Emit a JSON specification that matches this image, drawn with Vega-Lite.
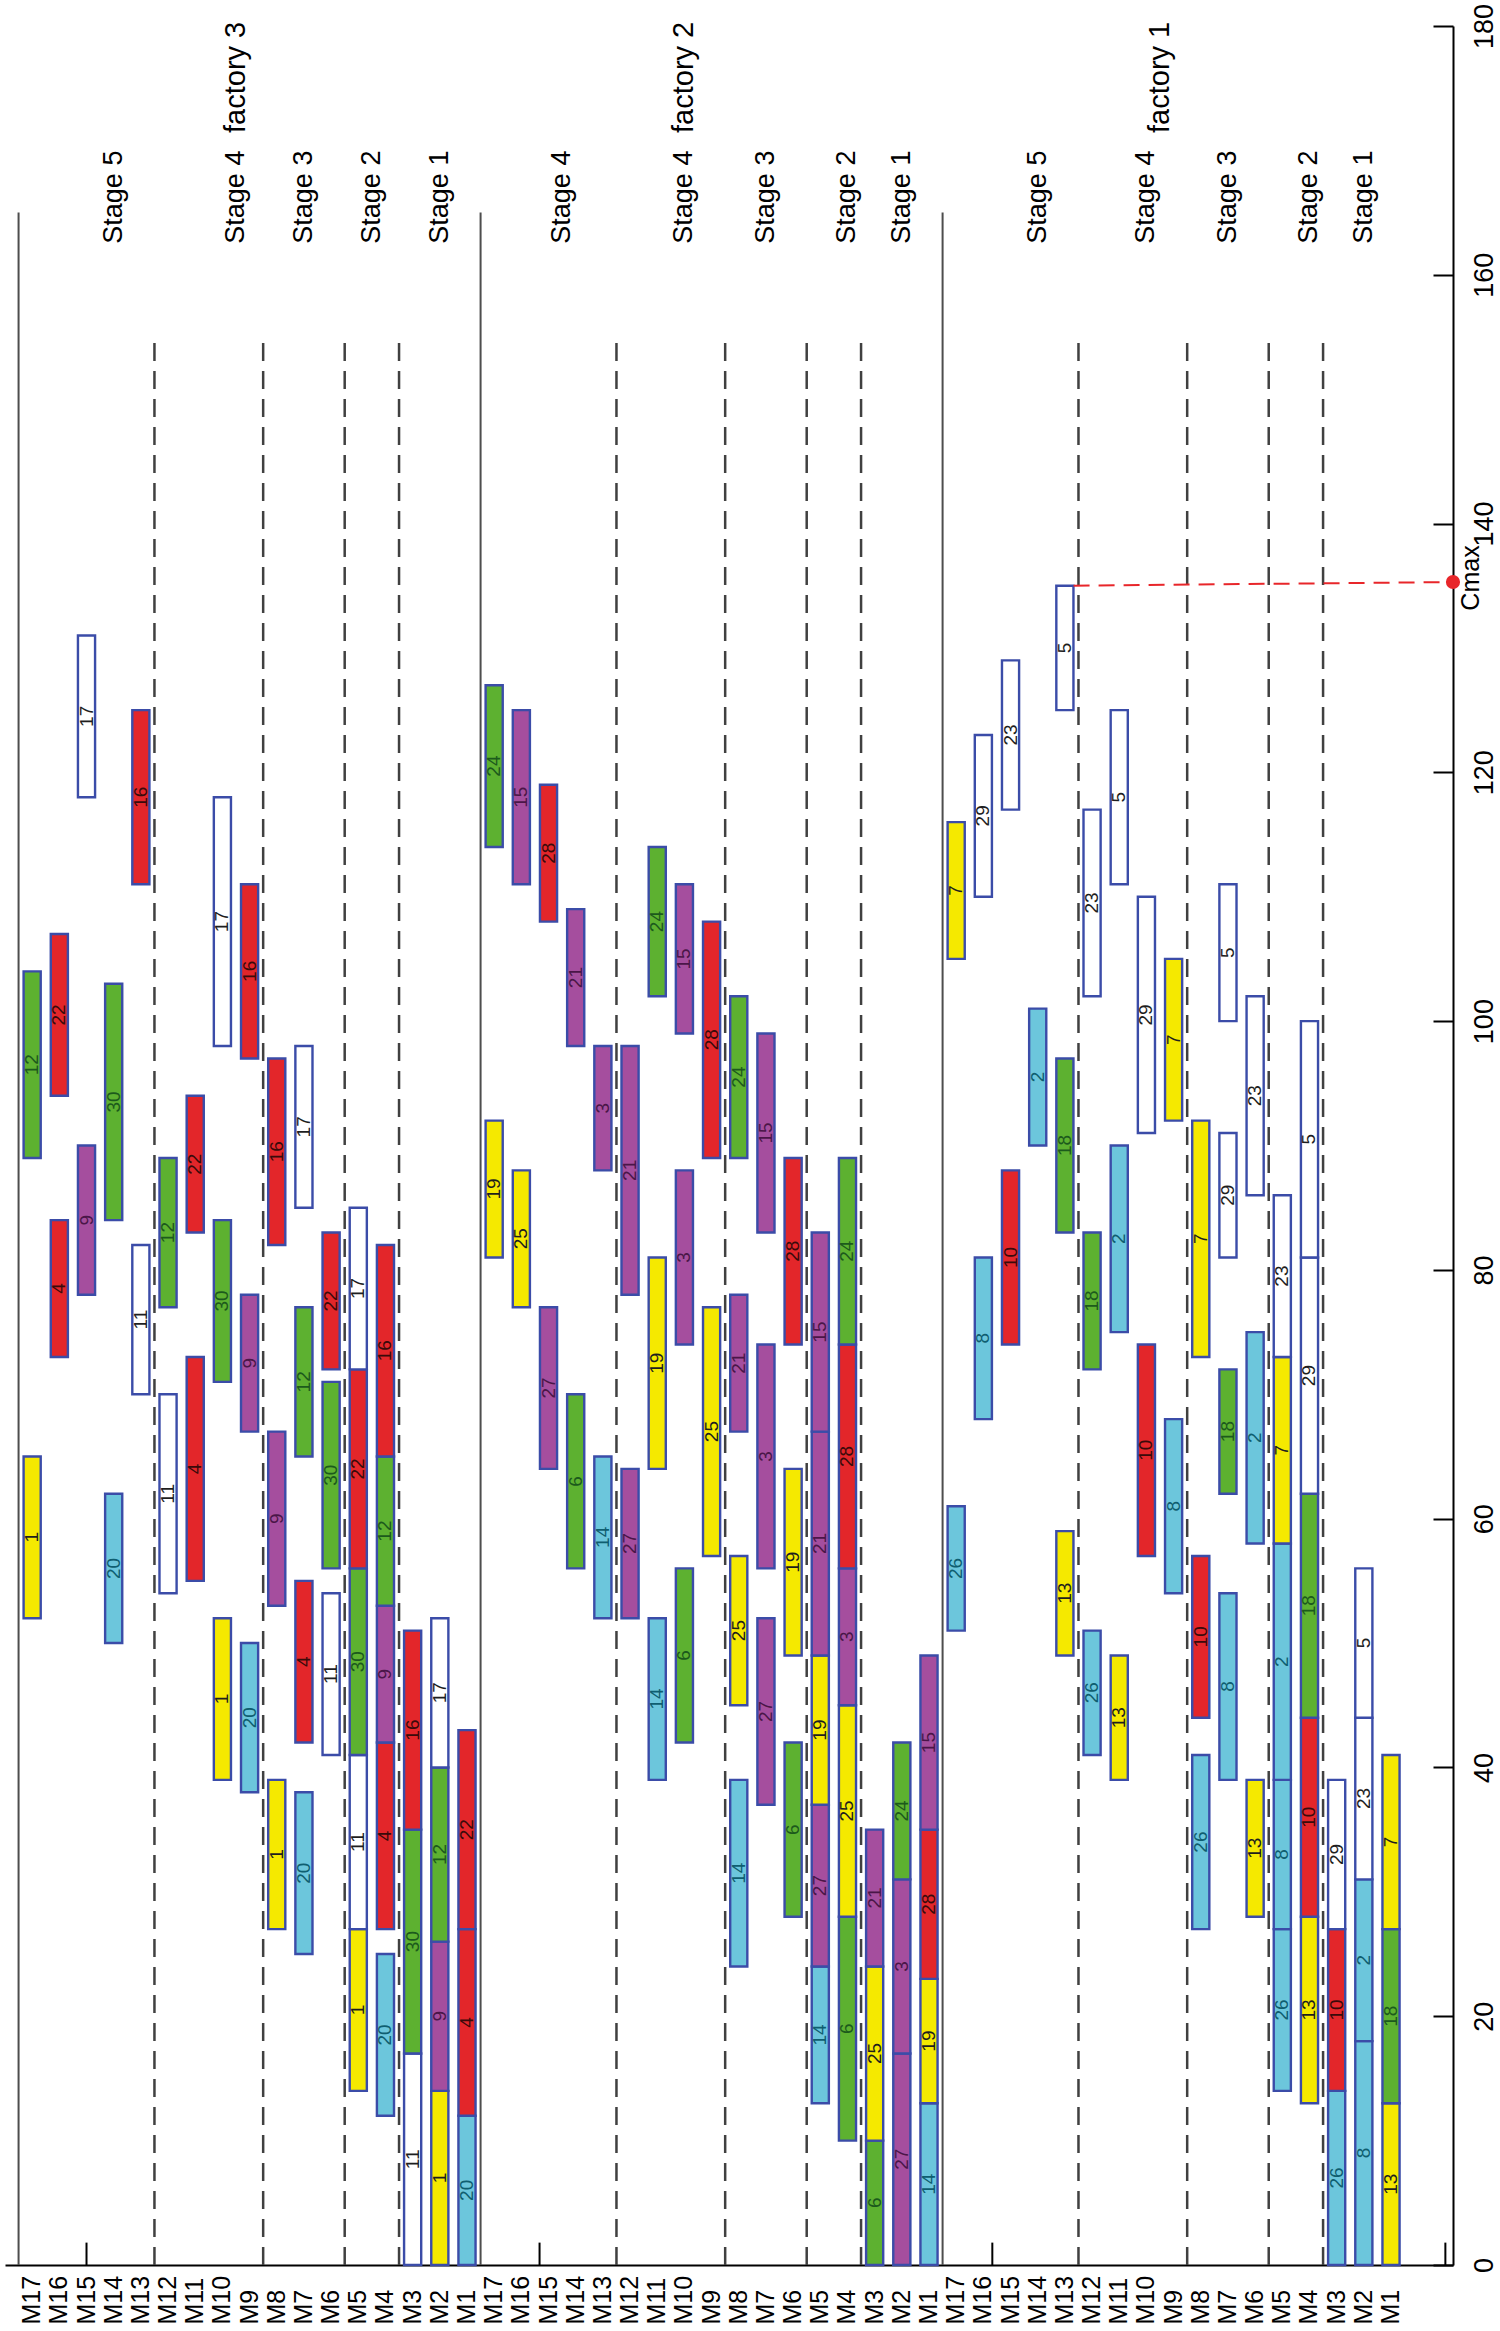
{
  "$schema": "https://vega.github.io/schema/vega-lite/v6.json",
  "width": 1448,
  "height": 2239,
  "autosize": {"type": "none"},
  "padding": {"left": 5, "top": 26, "right": 47, "bottom": 66},
  "background": "white",
  "config": {"view": {"stroke": null}, "font": "Liberation Sans"},
  "datasets": {
    "ops": [
      {"mc":"F1 M1","job":13,"start":0,"end":13},{"mc":"F1 M1","job":18,"start":13,"end":27},{"mc":"F1 M1","job":7,"start":27,"end":41},
      {"mc":"F1 M2","job":8,"start":0,"end":18},{"mc":"F1 M2","job":2,"start":18,"end":31},{"mc":"F1 M2","job":23,"start":31,"end":44},{"mc":"F1 M2","job":5,"start":44,"end":56},
      {"mc":"F1 M3","job":26,"start":0,"end":14},{"mc":"F1 M3","job":10,"start":14,"end":27},{"mc":"F1 M3","job":29,"start":27,"end":39},
      {"mc":"F1 M4","job":13,"start":13,"end":28},{"mc":"F1 M4","job":10,"start":28,"end":44},{"mc":"F1 M4","job":18,"start":44,"end":62},{"mc":"F1 M4","job":29,"start":62,"end":81},{"mc":"F1 M4","job":5,"start":81,"end":100},
      {"mc":"F1 M5","job":26,"start":14,"end":27},{"mc":"F1 M5","job":8,"start":27,"end":39},{"mc":"F1 M5","job":2,"start":39,"end":58},{"mc":"F1 M5","job":7,"start":58,"end":73},{"mc":"F1 M5","job":23,"start":73,"end":86},
      {"mc":"F1 M6","job":13,"start":28,"end":39},{"mc":"F1 M6","job":2,"start":58,"end":75},{"mc":"F1 M6","job":23,"start":86,"end":102},
      {"mc":"F1 M7","job":8,"start":39,"end":54},{"mc":"F1 M7","job":18,"start":62,"end":72},{"mc":"F1 M7","job":29,"start":81,"end":91},{"mc":"F1 M7","job":5,"start":100,"end":111},
      {"mc":"F1 M8","job":26,"start":27,"end":41},{"mc":"F1 M8","job":10,"start":44,"end":57},{"mc":"F1 M8","job":7,"start":73,"end":92},
      {"mc":"F1 M9","job":8,"start":54,"end":68},{"mc":"F1 M9","job":7,"start":92,"end":105},
      {"mc":"F1 M10","job":10,"start":57,"end":74},{"mc":"F1 M10","job":29,"start":91,"end":110},
      {"mc":"F1 M11","job":13,"start":39,"end":49},{"mc":"F1 M11","job":2,"start":75,"end":90},{"mc":"F1 M11","job":5,"start":111,"end":125},
      {"mc":"F1 M12","job":26,"start":41,"end":51},{"mc":"F1 M12","job":18,"start":72,"end":83},{"mc":"F1 M12","job":23,"start":102,"end":117},
      {"mc":"F1 M13","job":13,"start":49,"end":59},{"mc":"F1 M13","job":18,"start":83,"end":97},{"mc":"F1 M13","job":5,"start":125,"end":135},
      {"mc":"F1 M14","job":2,"start":90,"end":101},
      {"mc":"F1 M15","job":10,"start":74,"end":88},{"mc":"F1 M15","job":23,"start":117,"end":129},
      {"mc":"F1 M16","job":8,"start":68,"end":81},{"mc":"F1 M16","job":29,"start":110,"end":123},
      {"mc":"F1 M17","job":26,"start":51,"end":61},{"mc":"F1 M17","job":7,"start":105,"end":116},

      {"mc":"F2 M1","job":14,"start":0,"end":13},{"mc":"F2 M1","job":19,"start":13,"end":23},{"mc":"F2 M1","job":28,"start":23,"end":35},{"mc":"F2 M1","job":15,"start":35,"end":49},
      {"mc":"F2 M2","job":27,"start":0,"end":17},{"mc":"F2 M2","job":3,"start":17,"end":31},{"mc":"F2 M2","job":24,"start":31,"end":42},
      {"mc":"F2 M3","job":6,"start":0,"end":10},{"mc":"F2 M3","job":25,"start":10,"end":24},{"mc":"F2 M3","job":21,"start":24,"end":35},
      {"mc":"F2 M4","job":6,"start":10,"end":28},{"mc":"F2 M4","job":25,"start":28,"end":45},{"mc":"F2 M4","job":3,"start":45,"end":56},{"mc":"F2 M4","job":28,"start":56,"end":74},{"mc":"F2 M4","job":24,"start":74,"end":89},
      {"mc":"F2 M5","job":14,"start":13,"end":24},{"mc":"F2 M5","job":27,"start":24,"end":37},{"mc":"F2 M5","job":19,"start":37,"end":49},{"mc":"F2 M5","job":21,"start":49,"end":67},{"mc":"F2 M5","job":15,"start":67,"end":83},
      {"mc":"F2 M6","job":6,"start":28,"end":42},{"mc":"F2 M6","job":19,"start":49,"end":64},{"mc":"F2 M6","job":28,"start":74,"end":89},
      {"mc":"F2 M7","job":27,"start":37,"end":52},{"mc":"F2 M7","job":3,"start":56,"end":74},{"mc":"F2 M7","job":15,"start":83,"end":99},
      {"mc":"F2 M8","job":14,"start":24,"end":39},{"mc":"F2 M8","job":25,"start":45,"end":57},{"mc":"F2 M8","job":21,"start":67,"end":78},{"mc":"F2 M8","job":24,"start":89,"end":102},
      {"mc":"F2 M9","job":25,"start":57,"end":77},{"mc":"F2 M9","job":28,"start":89,"end":108},
      {"mc":"F2 M10","job":6,"start":42,"end":56},{"mc":"F2 M10","job":3,"start":74,"end":88},{"mc":"F2 M10","job":15,"start":99,"end":111},
      {"mc":"F2 M11","job":14,"start":39,"end":52},{"mc":"F2 M11","job":19,"start":64,"end":81},{"mc":"F2 M11","job":24,"start":102,"end":114},
      {"mc":"F2 M12","job":27,"start":52,"end":64},{"mc":"F2 M12","job":21,"start":78,"end":98},
      {"mc":"F2 M13","job":14,"start":52,"end":65},{"mc":"F2 M13","job":3,"start":88,"end":98},
      {"mc":"F2 M14","job":6,"start":56,"end":70},{"mc":"F2 M14","job":21,"start":98,"end":109},
      {"mc":"F2 M15","job":27,"start":64,"end":77},{"mc":"F2 M15","job":28,"start":108,"end":119},
      {"mc":"F2 M16","job":25,"start":77,"end":88},{"mc":"F2 M16","job":15,"start":111,"end":125},
      {"mc":"F2 M17","job":19,"start":81,"end":92},{"mc":"F2 M17","job":24,"start":114,"end":127},

      {"mc":"F3 M1","job":20,"start":0,"end":12},{"mc":"F3 M1","job":4,"start":12,"end":27},{"mc":"F3 M1","job":22,"start":27,"end":43},
      {"mc":"F3 M2","job":1,"start":0,"end":14},{"mc":"F3 M2","job":9,"start":14,"end":26},{"mc":"F3 M2","job":12,"start":26,"end":40},{"mc":"F3 M2","job":17,"start":40,"end":52},
      {"mc":"F3 M3","job":11,"start":0,"end":17},{"mc":"F3 M3","job":30,"start":17,"end":35},{"mc":"F3 M3","job":16,"start":35,"end":51},
      {"mc":"F3 M4","job":20,"start":12,"end":25},{"mc":"F3 M4","job":4,"start":27,"end":42},{"mc":"F3 M4","job":9,"start":42,"end":53},{"mc":"F3 M4","job":12,"start":53,"end":65},{"mc":"F3 M4","job":16,"start":65,"end":82},
      {"mc":"F3 M5","job":1,"start":14,"end":27},{"mc":"F3 M5","job":11,"start":27,"end":41},{"mc":"F3 M5","job":30,"start":41,"end":56},{"mc":"F3 M5","job":22,"start":56,"end":72},{"mc":"F3 M5","job":17,"start":72,"end":85},
      {"mc":"F3 M6","job":11,"start":41,"end":54},{"mc":"F3 M6","job":30,"start":56,"end":71},{"mc":"F3 M6","job":22,"start":72,"end":83},
      {"mc":"F3 M7","job":20,"start":25,"end":38},{"mc":"F3 M7","job":4,"start":42,"end":55},{"mc":"F3 M7","job":12,"start":65,"end":77},{"mc":"F3 M7","job":17,"start":85,"end":98},
      {"mc":"F3 M8","job":1,"start":27,"end":39},{"mc":"F3 M8","job":9,"start":53,"end":67},{"mc":"F3 M8","job":16,"start":82,"end":97},
      {"mc":"F3 M9","job":20,"start":38,"end":50},{"mc":"F3 M9","job":9,"start":67,"end":78},{"mc":"F3 M9","job":16,"start":97,"end":111},
      {"mc":"F3 M10","job":1,"start":39,"end":52},{"mc":"F3 M10","job":30,"start":71,"end":84},{"mc":"F3 M10","job":17,"start":98,"end":118},
      {"mc":"F3 M11","job":4,"start":55,"end":73},{"mc":"F3 M11","job":22,"start":83,"end":94},
      {"mc":"F3 M12","job":11,"start":54,"end":70},{"mc":"F3 M12","job":12,"start":77,"end":89},
      {"mc":"F3 M13","job":11,"start":70,"end":82},{"mc":"F3 M13","job":16,"start":111,"end":125},
      {"mc":"F3 M14","job":20,"start":50,"end":62},{"mc":"F3 M14","job":30,"start":84,"end":103},
      {"mc":"F3 M15","job":9,"start":78,"end":90},{"mc":"F3 M15","job":17,"start":118,"end":131},
      {"mc":"F3 M16","job":4,"start":73,"end":84},{"mc":"F3 M16","job":22,"start":94,"end":107},
      {"mc":"F3 M17","job":1,"start":52,"end":65},{"mc":"F3 M17","job":12,"start":89,"end":104}
    ]
  },
  "layer": [
    {
      "data": {"values": [{"mc":"F3 M17"},{"mc":"F2 M17"},{"mc":"F1 M17"}]},
      "mark": {"type": "rule", "color": "#4d4d4d", "strokeWidth": 2},
      "encoding": {
        "x": {"field": "mc", "type": "nominal", "bandPosition": 0, "title": null,
              "scale": {"domain": ["F3 M17","F3 M16","F3 M15","F3 M14","F3 M13","F3 M12","F3 M11","F3 M10","F3 M9","F3 M8","F3 M7","F3 M6","F3 M5","F3 M4","F3 M3","F3 M2","F3 M1","F2 M17","F2 M16","F2 M15","F2 M14","F2 M13","F2 M12","F2 M11","F2 M10","F2 M9","F2 M8","F2 M7","F2 M6","F2 M5","F2 M4","F2 M3","F2 M2","F2 M1","F1 M17","F1 M16","F1 M15","F1 M14","F1 M13","F1 M12","F1 M11","F1 M10","F1 M9","F1 M8","F1 M7","F1 M6","F1 M5","F1 M4","F1 M3","F1 M2","F1 M1","_r1"], "paddingInner": 0, "paddingOuter": 0.64, "align": 0.39}},
        "y": {"datum": 0, "type": "quantitative", "title": null, "scale": {"domain": [0, 180], "nice": false, "zero": false}},
        "y2": {"datum": 165}
      }
    },
    {
      "data": {"values": [{"mc":"F3 M12"},{"mc":"F3 M8"},{"mc":"F3 M5"},{"mc":"F3 M3"},{"mc":"F2 M12"},{"mc":"F2 M8"},{"mc":"F2 M5"},{"mc":"F2 M3"},{"mc":"F1 M12"},{"mc":"F1 M8"},{"mc":"F1 M5"},{"mc":"F1 M3"}]},
      "mark": {"type": "rule", "color": "#404040", "strokeWidth": 2.5, "strokeDash": [18, 10]},
      "encoding": {
        "x": {"field": "mc", "type": "nominal", "bandPosition": 0, "title": null},
        "y": {"datum": 0, "type": "quantitative", "title": null},
        "y2": {"datum": 155}
      }
    },
    {
      "data": {"values": [{"mc":"F3 M15"}]},
      "mark": {"type": "rule", "color": "#000", "strokeWidth": 2},
      "encoding": {"x": {"field": "mc", "type": "nominal", "bandPosition": 0.5, "title": null}, "y": {"datum": 0, "type": "quantitative", "title": null}, "y2": {"datum": 1.8}}
    },
    {
      "data": {"values": [{"mc":"F2 M15"}]},
      "mark": {"type": "rule", "color": "#000", "strokeWidth": 2},
      "encoding": {"x": {"field": "mc", "type": "nominal", "bandPosition": 0.17, "title": null}, "y": {"datum": 0, "type": "quantitative", "title": null}, "y2": {"datum": 1.8}}
    },
    {
      "data": {"values": [{"mc":"F1 M16"}]},
      "mark": {"type": "rule", "color": "#000", "strokeWidth": 2},
      "encoding": {"x": {"field": "mc", "type": "nominal", "bandPosition": 0.83, "title": null}, "y": {"datum": 0, "type": "quantitative", "title": null}, "y2": {"datum": 1.8}}
    },
    {
      "data": {"values": [{"mc":"_r1"}]},
      "mark": {"type": "rule", "color": "#000", "strokeWidth": 2},
      "encoding": {"x": {"field": "mc", "type": "nominal", "bandPosition": 1.5, "title": null}, "y": {"datum": 0, "type": "quantitative", "title": null}, "y2": {"datum": 1.8}}
    },
    {
      "data": {"name": "ops"},
      "mark": {"type": "bar", "width": {"band": 0.63}, "stroke": "#3B4CA8", "strokeWidth": 2.4},
      "encoding": {
        "x": {"field": "mc", "type": "nominal", "title": null,
              "axis": {"orient": "bottom", "ticks": false, "domainColor": "#000", "domainWidth": 2, "labelAngle": 270, "labelAlign": "left", "labelBaseline": "middle", "labelPadding": 59, "labelFontSize": 25, "labelColor": "#000", "labelExpr": "substring(datum.label, 3)", "labelOverlap": false}},
        "y": {"field": "start", "type": "quantitative", "title": null,
              "axis": {"orient": "right", "values": [0,20,40,60,80,100,120,140,160,180], "tickSize": -20, "tickWidth": 2, "tickColor": "#000", "domainColor": "#000", "domainWidth": 2, "labelAngle": 270, "labelAlign": "center", "labelBaseline": "top", "labelPadding": 38, "labelFontSize": 27, "labelColor": "#000", "grid": false, "labelFlush": false, "labelOverlap": false}},
        "y2": {"field": "end"},
        "fill": {"field": "job", "type": "nominal", "legend": null,
                 "scale": {"domain": [1,2,3,4,5,6,7,8,9,10,11,12,13,14,15,16,17,18,19,20,21,22,23,24,25,26,27,28,29,30],
                           "range": ["#F5E900","#6CC6DC","#A54E9E","#E3262A","#FFFFFF","#5DB130","#F5E900","#6CC6DC","#A54E9E","#E3262A","#FFFFFF","#5DB130","#F5E900","#6CC6DC","#A54E9E","#E3262A","#FFFFFF","#5DB130","#F5E900","#6CC6DC","#A54E9E","#E3262A","#FFFFFF","#5DB130","#F5E900","#6CC6DC","#A54E9E","#E3262A","#FFFFFF","#5DB130"]}}
      }
    },
    {
      "data": {"name": "ops"},
      "transform": [
        {"fold": ["start", "end"], "as": ["k", "v"]},
        {"aggregate": [{"op": "mean", "field": "v", "as": "mid"}], "groupby": ["mc", "job"]}
      ],
      "mark": {"type": "text", "angle": 270, "align": "center", "baseline": "middle", "fontSize": 19},
      "encoding": {
        "x": {"field": "mc", "type": "nominal", "title": null},
        "y": {"field": "mid", "type": "quantitative", "title": null},
        "text": {"field": "job"},
        "color": {"field": "job", "type": "nominal", "legend": null,
                  "scale": {"domain": [1,2,3,4,5,6,7,8,9,10,11,12,13,14,15,16,17,18,19,20,21,22,23,24,25,26,27,28,29,30],
                            "range": ["#1e1e1e","#0F5E70","#4A1648","#3A0A0A","#1e1e1e","#1C5A1C","#1e1e1e","#0F5E70","#4A1648","#3A0A0A","#1e1e1e","#1C5A1C","#1e1e1e","#0F5E70","#4A1648","#3A0A0A","#1e1e1e","#1C5A1C","#1e1e1e","#0F5E70","#4A1648","#3A0A0A","#1e1e1e","#1C5A1C","#1e1e1e","#0F5E70","#4A1648","#3A0A0A","#1e1e1e","#1C5A1C"]}}
      }
    },
    {
      "data": {"values": [
        {"txt":"Stage 5","mc":"F3 M14"},{"txt":"Stage 3","mc":"F3 M7"},{"txt":"Stage 1","mc":"F3 M2"},
        {"txt":"Stage 4","mc":"F2 M10"},{"txt":"Stage 3","mc":"F2 M7"},{"txt":"Stage 2","mc":"F2 M4"},{"txt":"Stage 1","mc":"F2 M2"},
        {"txt":"Stage 5","mc":"F1 M14"},{"txt":"Stage 4","mc":"F1 M10"},{"txt":"Stage 3","mc":"F1 M7"},{"txt":"Stage 2","mc":"F1 M4"},{"txt":"Stage 1","mc":"F1 M2"}
      ]},
      "mark": {"type": "text", "angle": 270, "align": "left", "baseline": "middle", "fontSize": 27, "color": "#000"},
      "encoding": {
        "x": {"field": "mc", "type": "nominal", "bandPosition": 0.5, "title": null},
        "y": {"datum": 162.5, "type": "quantitative", "title": null},
        "text": {"field": "txt"}
      }
    },
    {
      "data": {"values": [
        {"txt":"Stage 4","mc":"F3 M10"},{"txt":"Stage 2","mc":"F3 M5"},{"txt":"Stage 4","mc":"F2 M15"}
      ]},
      "mark": {"type": "text", "angle": 270, "align": "left", "baseline": "middle", "fontSize": 27, "color": "#000"},
      "encoding": {
        "x": {"field": "mc", "type": "nominal", "bandPosition": 1, "title": null},
        "y": {"datum": 162.5, "type": "quantitative", "title": null},
        "text": {"field": "txt"}
      }
    },
    {
      "data": {"values": [{"txt":"factory 3","mc":"F3 M10"},{"txt":"factory 1","mc":"F1 M10"}]},
      "mark": {"type": "text", "angle": 270, "align": "left", "baseline": "middle", "fontSize": 29, "color": "#000"},
      "encoding": {
        "x": {"field": "mc", "type": "nominal", "bandPosition": 1, "title": null},
        "y": {"datum": 171.4, "type": "quantitative", "title": null},
        "text": {"field": "txt"}
      }
    },
    {
      "data": {"values": [{"txt":"factory 2","mc":"F2 M10"}]},
      "mark": {"type": "text", "angle": 270, "align": "left", "baseline": "middle", "fontSize": 29, "color": "#000"},
      "encoding": {
        "x": {"field": "mc", "type": "nominal", "bandPosition": 0.5, "title": null},
        "y": {"datum": 171.4, "type": "quantitative", "title": null},
        "text": {"field": "txt"}
      }
    },
    {
      "data": {"values": [{"from":"F1 M13","to":"_r1","t0":135,"t1":135.3}]},
      "mark": {"type": "rule", "color": "#E8262A", "strokeWidth": 2, "strokeDash": [16, 9]},
      "encoding": {
        "x": {"field": "from", "type": "nominal", "bandPosition": 0.82, "title": null},
        "x2": {"field": "to", "bandPosition": 1.78},
        "y": {"field": "t0", "type": "quantitative", "title": null},
        "y2": {"field": "t1"}
      }
    },
    {
      "data": {"values": [{"mc":"_r1","t":135.3,"txt":"Cmax"}]},
      "mark": {"type": "point", "filled": true, "size": 200, "color": "#E8262A", "opacity": 1},
      "encoding": {
        "x": {"field": "mc", "type": "nominal", "bandPosition": 1.78, "title": null},
        "y": {"field": "t", "type": "quantitative", "title": null}
      }
    },
    {
      "data": {"values": [{"mc":"_r1","t":133,"txt":"Cmax"}]},
      "mark": {"type": "text", "angle": 270, "align": "left", "baseline": "top", "dy": 6, "fontSize": 25, "color": "#000"},
      "encoding": {
        "x": {"field": "mc", "type": "nominal", "bandPosition": 1.78, "title": null},
        "y": {"field": "t", "type": "quantitative", "title": null},
        "text": {"field": "txt"}
      }
    }
  ]
}
